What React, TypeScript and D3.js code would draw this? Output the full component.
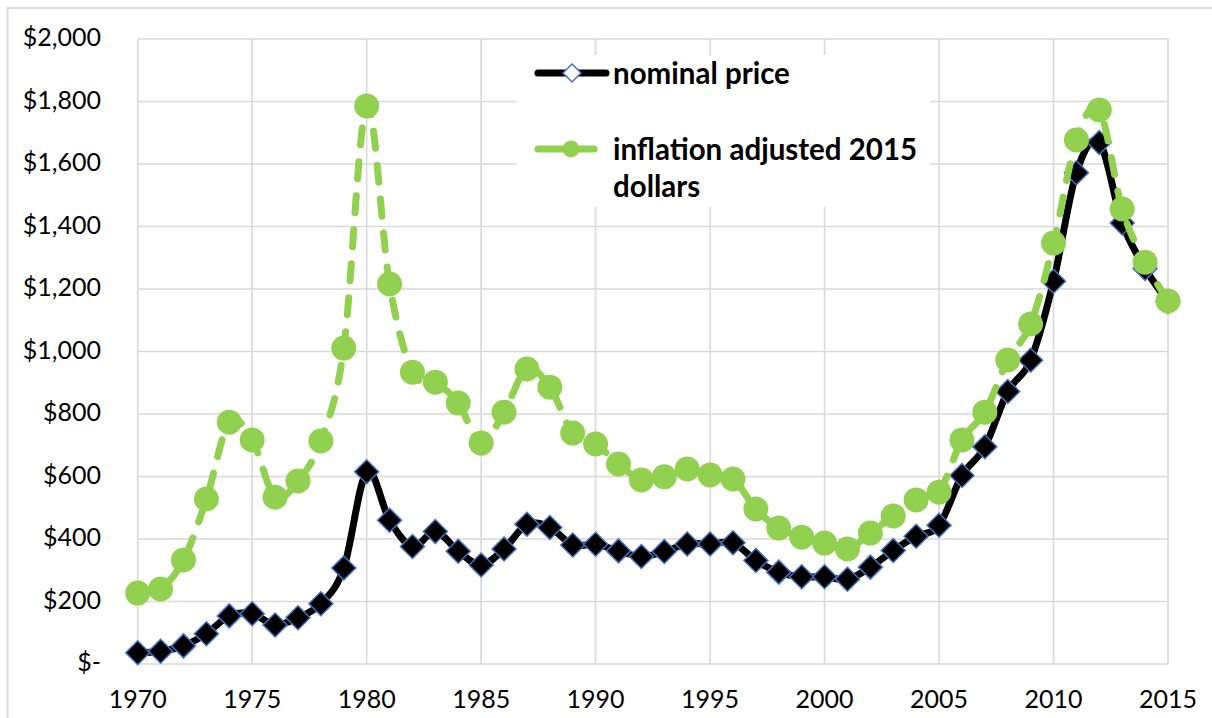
import React from "react";
import * as d3 from "d3";

// annual average gold price, USD per ounce
const years = [
  1970, 1971, 1972, 1973, 1974, 1975, 1976, 1977, 1978, 1979, 1980, 1981,
  1982, 1983, 1984, 1985, 1986, 1987, 1988, 1989, 1990, 1991, 1992, 1993,
  1994, 1995, 1996, 1997, 1998, 1999, 2000, 2001, 2002, 2003, 2004, 2005,
  2006, 2007, 2008, 2009, 2010, 2011, 2012, 2013, 2014, 2015,
];
const nominal = [
  36, 41, 58, 97, 154, 161, 125, 148, 193, 307, 615, 460, 376, 424, 361, 317,
  368, 447, 437, 381, 383, 362, 344, 360, 384, 384, 388, 331, 294, 279, 279,
  271, 310, 363, 409, 444, 603, 695, 872, 972, 1225, 1572, 1669, 1411, 1266,
  1160,
];
const adjusted = [
  227, 240, 333, 528, 774, 717, 534, 586, 714, 1011, 1786, 1216, 934, 902,
  835, 707, 806, 944, 886, 739, 704, 640, 589, 599, 624, 605, 592, 496, 435,
  406, 387, 368, 419, 474, 525, 550, 717, 806, 973, 1088, 1347, 1677, 1773,
  1456, 1286, 1162,
];
const yTicks = [0, 200, 400, 600, 800, 1000, 1200, 1400, 1600, 1800, 2000];
const xTicks = [1970, 1975, 1980, 1985, 1990, 1995, 2000, 2005, 2010, 2015];
const seriesNames = ["nominal price", "inflation adjusted 2015", "dollars"];

const FONT = "Lato, 'Open Sans', sans-serif";
const GREEN = "#92d050";
const GRID = "#d9d9d9";

export default function App() {
  const W = 1212;
  const H = 718;
  const x = d3.scaleLinear().domain([1970, 2015]).range([137.7, 1168]);
  const y = d3.scaleLinear().domain([0, 2000]).range([664, 39]);

  const line = d3
    .line<number>()
    .x((d, i) => x(years[i]))
    .y((d) => y(d))
    .curve(d3.curveCardinal.tension(0));

  const fmt = (v: number) => (v === 0 ? "$-" : "$" + d3.format(",")(v));
  const diamond = (cx: number, cy: number, r: number) =>
    `M${cx},${cy - r}L${cx + r},${cy}L${cx},${cy + r}L${cx - r},${cy}Z`;

  return (
    <svg
      width={W}
      height={H}
      style={{ position: "absolute", left: 0, top: 0, background: "#fff" }}
      fontFamily={FONT}
    >
      {/* chart border */}
      <rect x={7.5} y={8} width={1220} height={730} fill="none" stroke={GRID} strokeWidth={2} />

      {/* grid */}
      {yTicks.map((t) => (
        <line key={"gy" + t} x1={x(1970)} x2={x(2015)} y1={y(t)} y2={y(t)} stroke={GRID} strokeWidth={1.6} />
      ))}
      {xTicks.map((t) => (
        <line key={"gx" + t} x1={x(t)} x2={x(t)} y1={y(0)} y2={y(2000)} stroke={GRID} strokeWidth={1.6} />
      ))}

      {/* axis labels */}
      {yTicks.map((t) => (
        <text key={"ty" + t} x={101} y={y(t) + 1} textAnchor="end" dominantBaseline="middle" fontSize={25} fill="#000">
          {fmt(t)}
        </text>
      ))}
      {xTicks.map((t) => (
        <text key={"tx" + t} x={x(t)} y={708} textAnchor="middle" fontSize={25} fill="#000">
          {t}
        </text>
      ))}

      {/* nominal series */}
      <path d={line(nominal) || ""} fill="none" stroke="#000" strokeWidth={7} strokeLinejoin="round" strokeLinecap="round" />
      {nominal.map((v, i) => (
        <path key={"n" + i} d={diamond(x(years[i]), y(v), 12)} fill="#000" stroke="#4472c4" strokeWidth={1.5} />
      ))}

      {/* inflation adjusted series */}
      <path
        d={line(adjusted) || ""}
        fill="none"
        stroke={GREEN}
        strokeWidth={7}
        strokeDasharray="17 17"
        strokeLinecap="round"
      />
      {adjusted.map((v, i) => (
        <circle key={"a" + i} cx={x(years[i])} cy={y(v)} r={12.5} fill={GREEN} />
      ))}

      {/* legend */}
      <rect x={517} y={55} width={413} height={152} fill="#fff" />
      <line x1={538} x2={606} y1={73} y2={73} stroke="#000" strokeWidth={7} strokeLinecap="round" />
      <path d={diamond(572, 73, 9)} fill="#fff" stroke="#4472c4" strokeWidth={1.5} />
      <text x={613} y={84} fontSize={29.5} fontWeight="bold" fill="#000">
        {seriesNames[0]}
      </text>
      <line x1={538} x2={594} y1={149} y2={149} stroke={GREEN} strokeWidth={7} strokeLinecap="round" />
      <circle cx={571} cy={149} r={8.5} fill={GREEN} />
      <text x={613} y={160} fontSize={29.5} fontWeight="bold" fill="#000">
        {seriesNames[1]}
      </text>
      <text x={613} y={197} fontSize={29.5} fontWeight="bold" fill="#000">
        {seriesNames[2]}
      </text>
    </svg>
  );
}
